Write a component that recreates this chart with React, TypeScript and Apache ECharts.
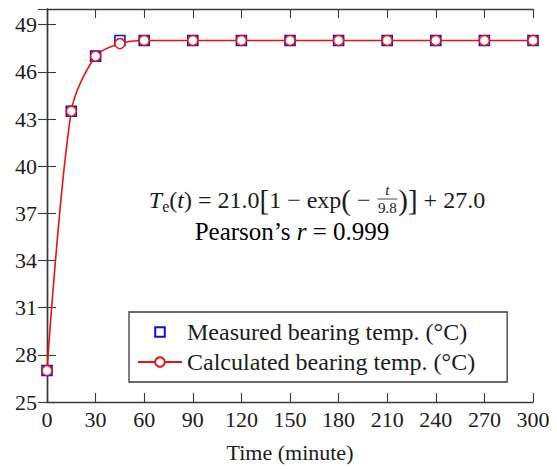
import React, { useEffect, useRef } from 'react';
import * as echarts from 'echarts';

// ---- data ----
const timeMinutes = [0, 15, 30, 45, 60, 90, 120, 150, 180, 210, 240, 270, 300];
const measuredTemp = [27, 43.5, 47, 48, 48, 48, 48, 48, 48, 48, 48, 48, 48];
const calculatedTemp = [27, 43.5, 47, 47.8, 48, 48, 48, 48, 48, 48, 48, 48, 48];
const xRange = [0, 300];
const xStep = 30;
const yRange = [25, 50];
const yStep = 3;
const seriesNames = ['Measured bearing temp. (°C)', 'Calculated bearing temp. (°C)'];
const xAxisTitle = 'Time (minute)';
const eqCoeff = '21.0';
const eqTau = '9.8';
const eqOffset = '27.0';
const pearsonR = '0.999';

const SERIF = 'Liberation Serif';
const INK = '#1c1c1c';
const FRAME = '#3a3a3a';

function buildEquation(cx: number, cy: number) {
  const canvas = document.createElement('canvas');
  const ctx = canvas.getContext('2d') as CanvasRenderingContext2D;
  const measure = (t: string, f: string) => {
    ctx.font = f;
    return ctx.measureText(t).width;
  };
  const N = `24px ${SERIF}`;
  const I = `italic 24px ${SERIF}`;
  const S = `16px ${SERIF}`;
  const B = `29px ${SERIF}`;
  const FI = `italic 15px ${SERIF}`;
  const FN = `15px ${SERIF}`;
  type Piece = { t?: string; f?: string; dy?: number; frac?: boolean };
  const pieces: Piece[] = [
    { t: 'T', f: I },
    { t: 'e', f: S, dy: 6 },
    { t: '(', f: N },
    { t: 't', f: I },
    { t: ') = ' + eqCoeff, f: N },
    { t: '[', f: B },
    { t: '1 − exp', f: N },
    { t: '(', f: B },
    { t: ' − ', f: N },
    { frac: true },
    { t: ')', f: B },
    { t: ']', f: B },
    { t: ' + ' + eqOffset, f: N },
  ];
  const fracW = Math.max(measure('t', FI), measure(eqTau, FN)) + 3;
  const widths = pieces.map((p) => (p.frac ? fracW : measure(p.t as string, p.f as string)));
  const total = widths.reduce((a, b) => a + b, 0);
  let x = cx - total / 2;
  const els: any[] = [];
  const common = { fill: INK, verticalAlign: 'middle', textVerticalAlign: 'middle' };
  pieces.forEach((p, i) => {
    if (p.frac) {
      const mid = x + fracW / 2;
      els.push({
        type: 'text', x: mid, y: cy - 10,
        style: { ...common, text: 't', font: FI, align: 'center', textAlign: 'center' },
      });
      els.push({
        type: 'line',
        shape: { x1: x + 1, y1: cy - 1, x2: x + fracW - 1, y2: cy - 1 },
        style: { stroke: INK, lineWidth: 0.8 },
      });
      els.push({
        type: 'text', x: mid, y: cy + 8,
        style: { ...common, text: eqTau, font: FN, align: 'center', textAlign: 'center' },
      });
    } else {
      els.push({
        type: 'text', x, y: cy + (p.dy || 0),
        style: { ...common, text: p.t, font: p.f, align: 'left', textAlign: 'left' },
      });
    }
    x += widths[i];
  });
  return els;
}

export default function App() {
  const ref = useRef<HTMLDivElement>(null);
  useEffect(() => {
    document.body.style.margin = '0';
    if (!ref.current) return;
    const chart = echarts.init(ref.current, undefined, { renderer: 'svg' });
    const axisLine = { show: true, lineStyle: { color: FRAME, width: 1.4 } };
    const tick = { show: true, inside: true, length: 9, lineStyle: { color: FRAME, width: 1.1 } };
    const label = { fontFamily: SERIF, fontSize: 22, color: INK };
    const xy = (ys: number[]) => timeMinutes.map((t, i) => [t, ys[i]]);
    const option: any = {
      animation: false,
      backgroundColor: '#fff',
      textStyle: { fontFamily: SERIF },
      grid: { left: 47, right: 24, top: 9, bottom: 67 },
      xAxis: [
        {
          type: 'value', min: xRange[0], max: xRange[1], interval: xStep, position: 'bottom',
          axisLine, axisTick: tick, splitLine: { show: false },
          axisLabel: { ...label, margin: 6 },
          name: xAxisTitle, nameLocation: 'middle', nameGap: 39,
          nameTextStyle: { fontFamily: SERIF, fontSize: 22, color: INK },
        },
        {
          type: 'value', min: xRange[0], max: xRange[1], interval: xStep, position: 'top',
          axisLine, axisTick: tick, splitLine: { show: false }, axisLabel: { show: false },
        },
      ],
      yAxis: [
        {
          type: 'value', min: yRange[0], max: yRange[1], interval: yStep, position: 'left',
          axisLine, axisTick: tick, splitLine: { show: false },
          axisLabel: { ...label, margin: 10, showMaxLabel: false },
        },
        {
          type: 'value', min: yRange[0], max: yRange[1], interval: yStep, position: 'right',
          axisLine, axisTick: tick, splitLine: { show: false }, axisLabel: { show: false },
        },
      ],
      legend: {
        orient: 'vertical', left: 129, top: 312,
        itemWidth: 44, itemHeight: 12, itemGap: 6,
        padding: [8, 32, 8, 8],
        borderColor: FRAME, borderWidth: 1.3, backgroundColor: '#fff',
        textStyle: { fontFamily: SERIF, fontSize: 24, color: INK },
        data: seriesNames,
      },
      series: [
        {
          name: seriesNames[0], type: 'line', data: xy(measuredTemp),
          symbol: 'rect', symbolSize: 10, showAllSymbol: true,
          lineStyle: { width: 0, opacity: 0 },
          itemStyle: { color: '#ffffff', borderColor: '#1010e0', borderWidth: 1.6, opacity: 1 },
          z: 2,
        },
        {
          name: seriesNames[1], type: 'line', data: xy(calculatedTemp),
          smooth: 0.3,
          symbol: 'circle', symbolSize: 10, showAllSymbol: true,
          lineStyle: { color: '#ee1111', width: 1.6 },
          itemStyle: { color: '#ffffff', borderColor: '#ee1111', borderWidth: 1.5 },
          z: 3,
        },
      ],
      graphic: [
        ...buildEquation(317, 200),
        {
          type: 'text', x: 292, y: 231,
          style: {
            text: `{n|Pearson’s }{i|r}{n| = ${pearsonR}}`,
            align: 'center', verticalAlign: 'middle', textAlign: 'center', textVerticalAlign: 'middle',
            rich: {
              n: { fontFamily: SERIF, fontSize: 25, color: INK },
              i: { fontFamily: SERIF, fontSize: 25, fontStyle: 'italic', color: INK },
            },
          },
        },
      ],
    };
    chart.setOption(option);
    return () => chart.dispose();
  }, []);
  return <div ref={ref} style={{ width: 557, height: 469 }} />;
}
